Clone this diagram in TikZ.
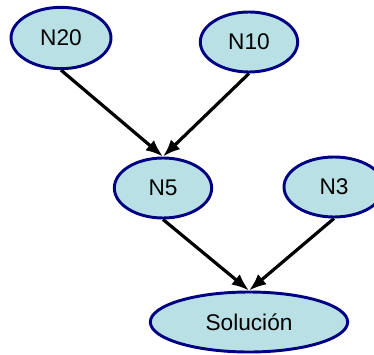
\documentclass[tikz,border=0pt]{standalone}
\usepackage{fontspec}
\setmainfont{Liberation Sans}
\usetikzlibrary{shapes.geometric,arrows.meta}
\definecolor{nodefill}{RGB}{185,224,228}
\definecolor{nodeline}{RGB}{0,0,130}
\tikzset{
  state/.style={ellipse, draw=nodeline, fill=nodefill, line width=2.2pt,
    inner sep=0pt, font=\fontsize{17}{19}\selectfont},
  link/.style={-{Latex[length=13pt,width=10pt]}, line width=2.4pt, black}
}
\begin{document}
\begin{tikzpicture}[x=0.75pt,y=0.75pt]
            \useasboundingbox (0,0) rectangle (374,354);
            \node[state, minimum width=75pt, minimum height=46pt] (n20) at (61,316) {N20};
            \node[state, minimum width=73pt, minimum height=45pt] (n10) at (249,312) {N10};
            \node[state, minimum width=73pt, minimum height=45pt] (n5) at (163,166) {N5};
            \node[state, minimum width=75pt, minimum height=45pt] (n3) at (334,167) {N3};
            \node[state, minimum width=148pt, minimum height=45pt] (sol) at (249,32) {Solución};

            \draw[link] (n20.south) -- (n5.north);
            \draw[link] (n10.south) -- (n5.north);
            \draw[link] (n5.south) -- (sol.north);
            \draw[link] (n3.south) -- (sol.north);
        \end{tikzpicture}
\end{document}
